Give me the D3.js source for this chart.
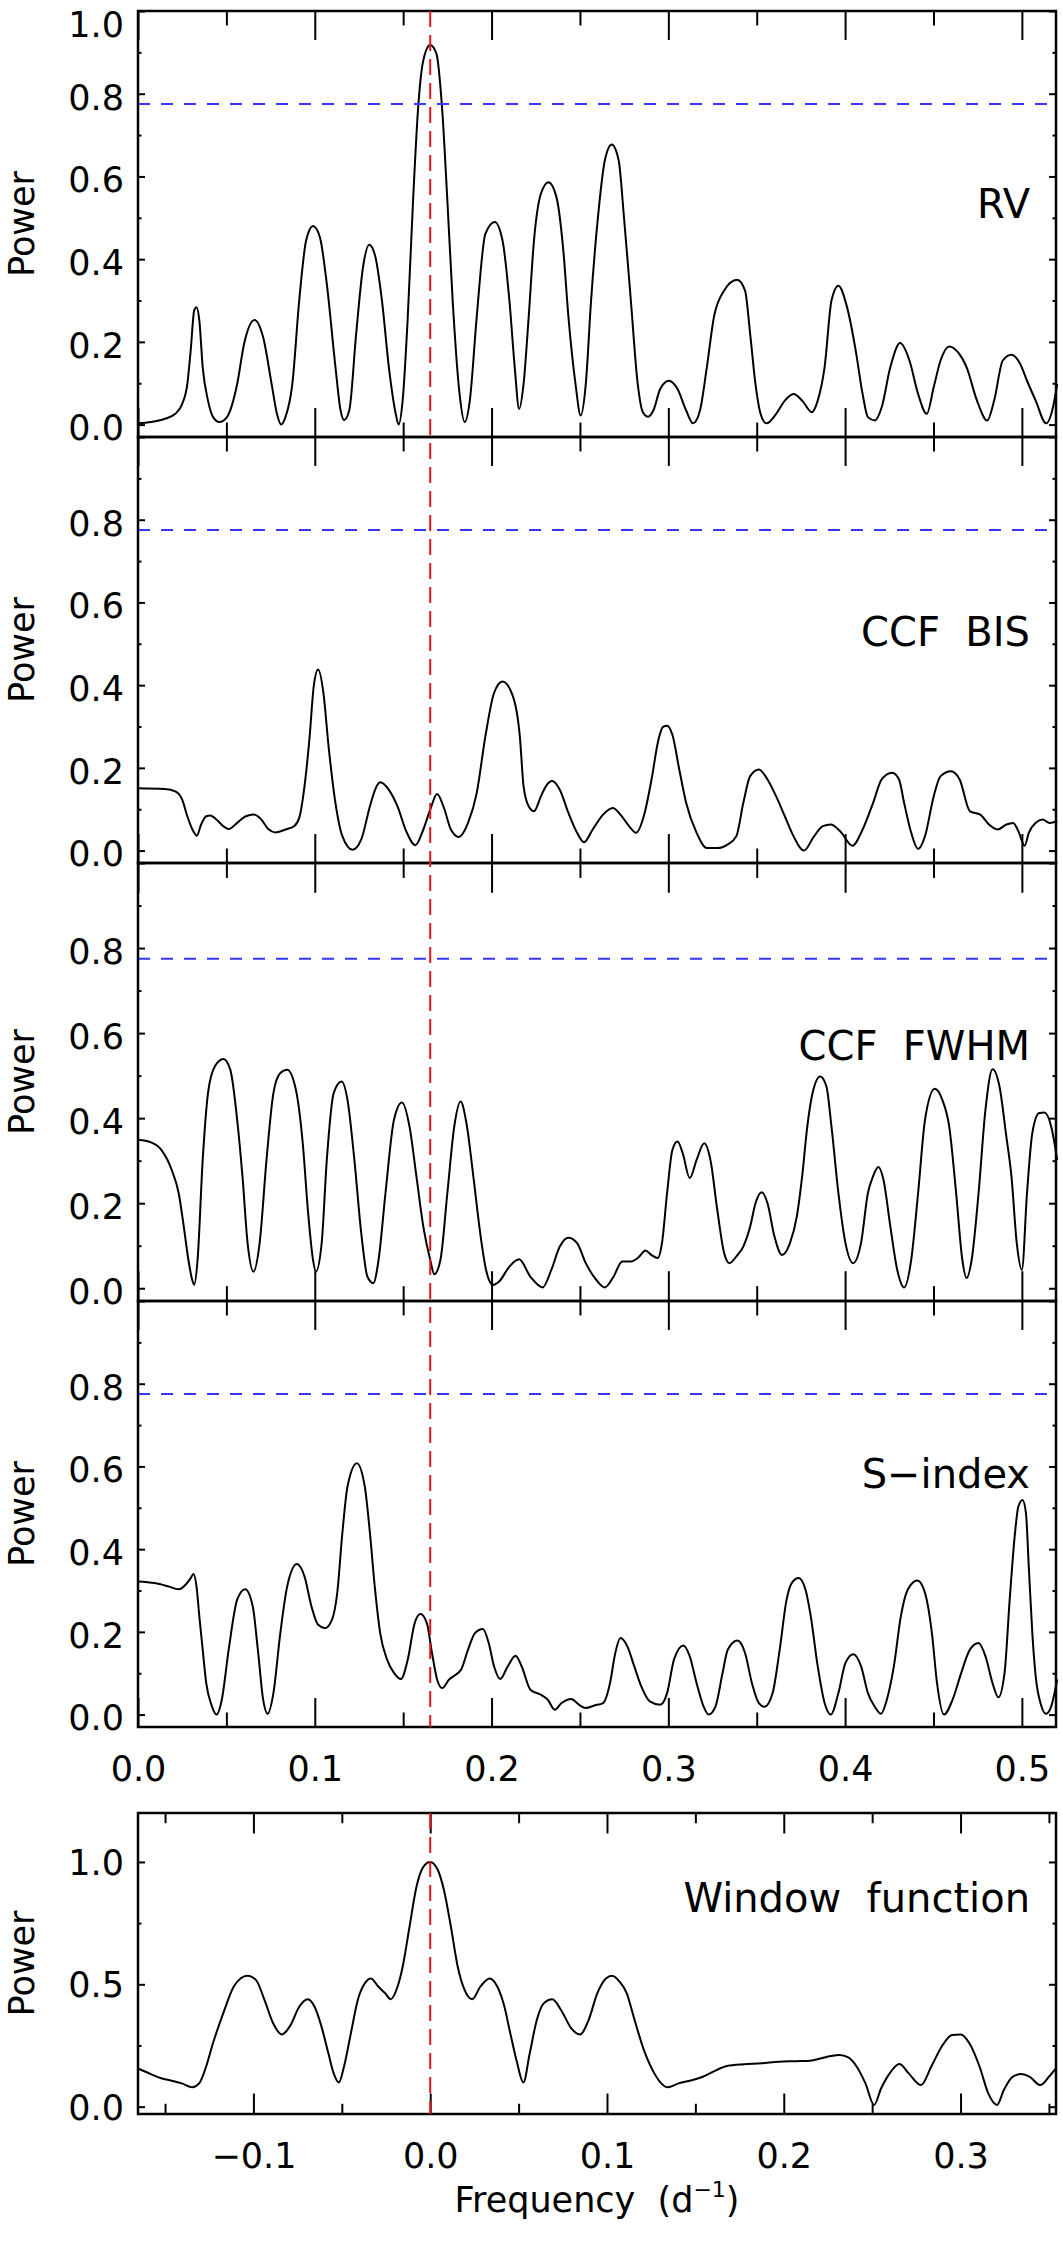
<!DOCTYPE html>
<html>
<head>
<meta charset="utf-8">
<script src="https://cdn.jsdelivr.net/npm/d3@7"></script>
<style>
  body { margin: 0; background: #fff; }
  svg text { font-family: "DejaVu Sans", sans-serif; fill: #000; }
</style>
</head>
<body>
<svg id="chart"></svg>
<script>
// periodogram values (frequency in 1/d, normalised power)
const freqRV = [0.0000,0.0074,0.0152,0.0211,0.0250,0.0279,0.0298,0.0318,0.0331,0.0347,
  0.0366,0.0396,0.0425,0.0460,0.0503,0.0561,0.0600,0.0659,0.0708,0.0756,
  0.0786,0.0809,0.0834,0.0873,0.0912,0.0951,0.0990,0.1029,0.1068,0.1117,
  0.1146,0.1166,0.1195,0.1234,0.1273,0.1308,0.1341,0.1380,0.1419,0.1458,
  0.1474,0.1497,0.1526,0.1556,0.1585,0.1614,0.1653,0.1688,0.1721,0.1750,
  0.1780,0.1819,0.1848,0.1877,0.1916,0.1965,0.2018,0.2062,0.2101,0.2131,
  0.2156,0.2181,0.2210,0.2240,0.2279,0.2322,0.2367,0.2406,0.2435,0.2475,
  0.2504,0.2533,0.2563,0.2602,0.2641,0.2680,0.2719,0.2749,0.2788,0.2827,
  0.2856,0.2886,0.2915,0.2954,0.3003,0.3052,0.3101,0.3140,0.3179,0.3218,
  0.3258,0.3316,0.3389,0.3434,0.3463,0.3493,0.3522,0.3555,0.3610,0.3659,
  0.3708,0.3757,0.3812,0.3845,0.3884,0.3923,0.3962,0.4011,0.4060,0.4099,
  0.4129,0.4168,0.4207,0.4256,0.4311,0.4364,0.4413,0.4462,0.4501,0.4540,
  0.4589,0.4638,0.4687,0.4746,0.4804,0.4843,0.4892,0.4941,0.4990,0.5029,
  0.5078,0.5137,0.5176,0.5200];
const powerRV = [0.003,0.006,0.014,0.026,0.050,0.098,0.179,0.276,0.284,0.252,
  0.139,0.058,0.018,0.006,0.018,0.098,0.195,0.253,0.211,0.098,
  0.026,0.000,0.018,0.098,0.300,0.445,0.480,0.453,0.340,0.139,
  0.034,0.011,0.034,0.219,0.381,0.435,0.409,0.300,0.139,0.026,
  0.000,0.058,0.260,0.542,0.768,0.881,0.918,0.897,0.760,0.542,
  0.300,0.074,0.006,0.058,0.260,0.461,0.490,0.445,0.300,0.139,
  0.038,0.098,0.260,0.445,0.558,0.586,0.550,0.421,0.260,0.098,
  0.022,0.098,0.300,0.502,0.639,0.677,0.639,0.502,0.300,0.098,
  0.030,0.019,0.034,0.086,0.106,0.086,0.034,0.003,0.034,0.139,
  0.260,0.324,0.350,0.324,0.219,0.098,0.026,0.003,0.026,0.058,
  0.074,0.058,0.030,0.058,0.139,0.300,0.336,0.284,0.179,0.074,
  0.018,0.010,0.042,0.139,0.197,0.155,0.074,0.026,0.090,0.155,
  0.189,0.175,0.139,0.058,0.010,0.058,0.155,0.169,0.147,0.106,
  0.058,0.003,0.042,0.098];

const freqBIS = [0.0000,0.0152,0.0211,0.0250,0.0279,0.0308,0.0333,0.0357,0.0386,0.0409,
  0.0444,0.0483,0.0513,0.0561,0.0610,0.0655,0.0698,0.0737,0.0776,0.0834,
  0.0883,0.0912,0.0942,0.0971,0.0994,0.1019,0.1049,0.1078,0.1117,0.1156,
  0.1214,0.1263,0.1312,0.1341,0.1370,0.1419,0.1468,0.1517,0.1569,0.1614,
  0.1653,0.1692,0.1731,0.1770,0.1815,0.1867,0.1916,0.1965,0.2014,0.2062,
  0.2121,0.2160,0.2181,0.2210,0.2240,0.2279,0.2308,0.2343,0.2386,0.2435,
  0.2484,0.2523,0.2572,0.2631,0.2686,0.2729,0.2778,0.2817,0.2866,0.2905,
  0.2944,0.2970,0.2993,0.3023,0.3062,0.3101,0.3160,0.3218,0.3277,0.3336,
  0.3385,0.3424,0.3463,0.3512,0.3561,0.3610,0.3659,0.3708,0.3767,0.3825,
  0.3874,0.3919,0.3972,0.4041,0.4099,0.4158,0.4207,0.4266,0.4305,0.4334,
  0.4374,0.4413,0.4452,0.4501,0.4540,0.4599,0.4648,0.4706,0.4765,0.4814,
  0.4863,0.4912,0.4951,0.4980,0.5016,0.5039,0.5078,0.5117,0.5157,0.5200];
const powerBIS = [0.151,0.149,0.143,0.123,0.083,0.051,0.036,0.063,0.083,0.085,
  0.075,0.059,0.052,0.067,0.083,0.087,0.075,0.052,0.044,0.051,
  0.059,0.079,0.156,0.276,0.397,0.438,0.381,0.252,0.115,0.035,
  0.002,0.027,0.107,0.147,0.165,0.147,0.107,0.047,0.013,0.051,
  0.099,0.137,0.103,0.051,0.033,0.067,0.139,0.276,0.381,0.409,
  0.373,0.276,0.156,0.107,0.095,0.131,0.156,0.168,0.147,0.091,
  0.043,0.020,0.051,0.087,0.103,0.087,0.059,0.043,0.091,0.172,
  0.268,0.299,0.302,0.280,0.196,0.115,0.043,0.006,0.006,0.015,
  0.035,0.115,0.180,0.196,0.172,0.131,0.083,0.035,0.000,0.035,
  0.059,0.063,0.047,0.012,0.051,0.115,0.172,0.188,0.172,0.115,
  0.043,0.004,0.035,0.131,0.180,0.192,0.172,0.095,0.087,0.063,
  0.051,0.063,0.067,0.047,0.012,0.043,0.067,0.075,0.067,0.071];

const freqFWHM = [0.0000,0.0074,0.0133,0.0191,0.0230,0.0259,0.0285,0.0304,0.0318,0.0337,
  0.0366,0.0396,0.0435,0.0483,0.0522,0.0561,0.0591,0.0620,0.0653,0.0688,
  0.0727,0.0766,0.0805,0.0844,0.0893,0.0932,0.0961,0.0990,0.1006,0.1039,
  0.1068,0.1107,0.1152,0.1185,0.1224,0.1263,0.1298,0.1331,0.1361,0.1400,
  0.1448,0.1493,0.1536,0.1575,0.1614,0.1653,0.1676,0.1711,0.1750,0.1789,
  0.1825,0.1858,0.1897,0.1936,0.1969,0.2008,0.2043,0.2101,0.2156,0.2220,
  0.2289,0.2338,0.2386,0.2435,0.2484,0.2533,0.2592,0.2641,0.2690,0.2739,
  0.2788,0.2837,0.2870,0.2905,0.2940,0.2964,0.2993,0.3023,0.3052,0.3081,
  0.3121,0.3160,0.3203,0.3238,0.3277,0.3316,0.3346,0.3385,0.3424,0.3463,
  0.3493,0.3528,0.3561,0.3600,0.3643,0.3688,0.3727,0.3757,0.3786,0.3816,
  0.3859,0.3894,0.3923,0.3962,0.4002,0.4045,0.4090,0.4129,0.4158,0.4188,
  0.4217,0.4256,0.4295,0.4334,0.4374,0.4413,0.4452,0.4507,0.4550,0.4589,
  0.4628,0.4663,0.4687,0.4716,0.4755,0.4794,0.4834,0.4873,0.4912,0.4941,
  0.4971,0.5000,0.5029,0.5059,0.5098,0.5127,0.5166,0.5200];
const powerFWHM = [0.349,0.343,0.325,0.278,0.224,0.145,0.067,0.024,0.008,0.067,
  0.302,0.459,0.522,0.539,0.514,0.396,0.263,0.106,0.039,0.106,
  0.302,0.459,0.506,0.514,0.467,0.341,0.184,0.067,0.039,0.106,
  0.302,0.459,0.486,0.443,0.302,0.129,0.027,0.012,0.067,0.224,
  0.396,0.437,0.380,0.263,0.145,0.067,0.033,0.067,0.224,0.380,
  0.439,0.388,0.263,0.129,0.043,0.008,0.016,0.051,0.068,0.027,
  0.002,0.043,0.098,0.119,0.106,0.059,0.020,0.002,0.027,0.063,
  0.063,0.075,0.089,0.078,0.071,0.106,0.224,0.325,0.345,0.318,
  0.259,0.302,0.341,0.302,0.184,0.082,0.059,0.075,0.098,0.145,
  0.200,0.226,0.200,0.122,0.078,0.106,0.169,0.263,0.380,0.459,
  0.498,0.475,0.380,0.224,0.106,0.059,0.106,0.224,0.263,0.285,
  0.255,0.145,0.043,0.002,0.067,0.224,0.396,0.469,0.443,0.380,
  0.224,0.067,0.024,0.067,0.224,0.420,0.515,0.475,0.357,0.263,
  0.106,0.043,0.224,0.365,0.412,0.413,0.380,0.302];

const freqSindex = [0.0000,0.0094,0.0172,0.0230,0.0269,0.0298,0.0314,0.0331,0.0347,0.0366,
  0.0386,0.0415,0.0444,0.0474,0.0513,0.0561,0.0606,0.0649,0.0678,0.0708,
  0.0733,0.0766,0.0805,0.0844,0.0899,0.0942,0.0981,0.1019,0.1058,0.1097,
  0.1127,0.1156,0.1185,0.1238,0.1283,0.1312,0.1341,0.1370,0.1409,0.1448,
  0.1487,0.1526,0.1565,0.1598,0.1634,0.1663,0.1692,0.1721,0.1760,0.1789,
  0.1828,0.1867,0.1906,0.1951,0.1984,0.2014,0.2049,0.2092,0.2136,0.2170,
  0.2220,0.2279,0.2318,0.2357,0.2396,0.2451,0.2494,0.2533,0.2582,0.2631,
  0.2670,0.2700,0.2729,0.2768,0.2807,0.2847,0.2895,0.2954,0.2993,0.3032,
  0.3085,0.3121,0.3160,0.3199,0.3228,0.3267,0.3307,0.3336,0.3391,0.3434,
  0.3473,0.3512,0.3545,0.3590,0.3630,0.3669,0.3698,0.3737,0.3776,0.3806,
  0.3845,0.3884,0.3919,0.3962,0.4002,0.4047,0.4090,0.4129,0.4168,0.4203,
  0.4236,0.4276,0.4315,0.4354,0.4409,0.4452,0.4491,0.4520,0.4559,0.4608,
  0.4657,0.4706,0.4755,0.4794,0.4834,0.4867,0.4902,0.4931,0.4961,0.4980,
  0.5004,0.5023,0.5039,0.5059,0.5078,0.5108,0.5137,0.5166,0.5200];
const powerSindex = [0.322,0.318,0.310,0.303,0.314,0.330,0.340,0.310,0.237,0.157,
  0.076,0.024,0.000,0.036,0.157,0.278,0.303,0.262,0.157,0.036,
  0.002,0.052,0.197,0.310,0.364,0.334,0.262,0.217,0.209,0.229,
  0.294,0.439,0.551,0.608,0.551,0.439,0.302,0.197,0.133,0.101,
  0.086,0.133,0.221,0.243,0.221,0.149,0.085,0.064,0.085,0.094,
  0.109,0.157,0.197,0.207,0.173,0.117,0.086,0.117,0.142,0.117,
  0.060,0.048,0.036,0.012,0.028,0.038,0.024,0.016,0.022,0.028,
  0.076,0.149,0.185,0.165,0.117,0.068,0.032,0.024,0.052,0.133,
  0.167,0.141,0.076,0.020,0.000,0.020,0.101,0.157,0.179,0.149,
  0.076,0.028,0.019,0.052,0.157,0.278,0.318,0.330,0.302,0.237,
  0.117,0.028,0.000,0.052,0.125,0.146,0.117,0.052,0.019,0.002,
  0.036,0.117,0.237,0.302,0.324,0.294,0.197,0.076,0.000,0.036,
  0.101,0.157,0.173,0.141,0.076,0.042,0.101,0.278,0.439,0.503,
  0.519,0.487,0.358,0.197,0.093,0.024,0.002,0.020,0.085];

const freqWindow = [-0.1653,-0.1580,-0.1522,-0.1463,-0.1405,-0.1346,-0.1307,-0.1268,-0.1229,-0.1171,
  -0.1112,-0.1073,-0.1034,-0.0985,-0.0937,-0.0888,-0.0839,-0.0790,-0.0741,-0.0693,
  -0.0654,-0.0615,-0.0576,-0.0546,-0.0517,-0.0488,-0.0449,-0.0410,-0.0371,-0.0336,
  -0.0293,-0.0254,-0.0224,-0.0185,-0.0156,-0.0117,-0.0078,-0.0039,0.0000,0.0039,
  0.0078,0.0117,0.0156,0.0195,0.0238,0.0283,0.0336,0.0380,0.0420,0.0449,
  0.0488,0.0527,0.0563,0.0603,0.0642,0.0691,0.0740,0.0798,0.0847,0.0896,
  0.0945,0.0994,0.1029,0.1072,0.1112,0.1151,0.1209,0.1268,0.1307,0.1343,
  0.1405,0.1484,0.1542,0.1601,0.1679,0.1777,0.1875,0.1973,0.2071,0.2149,
  0.2208,0.2267,0.2316,0.2365,0.2413,0.2462,0.2511,0.2551,0.2599,0.2654,
  0.2707,0.2776,0.2834,0.2893,0.2952,0.3001,0.3050,0.3108,0.3157,0.3206,
  0.3245,0.3294,0.3343,0.3392,0.3451,0.3500,0.3540];
const powerWindow = [0.156,0.133,0.116,0.106,0.095,0.079,0.095,0.163,0.259,0.381,
  0.490,0.524,0.535,0.517,0.435,0.340,0.295,0.333,0.408,0.439,
  0.408,0.327,0.218,0.136,0.099,0.163,0.299,0.435,0.503,0.524,
  0.490,0.463,0.439,0.490,0.571,0.735,0.898,0.980,1.000,0.973,
  0.884,0.735,0.571,0.476,0.439,0.490,0.524,0.490,0.408,0.313,
  0.190,0.099,0.218,0.354,0.422,0.439,0.395,0.320,0.295,0.354,
  0.463,0.524,0.535,0.510,0.463,0.367,0.231,0.136,0.095,0.079,
  0.095,0.109,0.122,0.143,0.166,0.173,0.177,0.184,0.186,0.188,
  0.197,0.207,0.211,0.201,0.163,0.095,0.007,0.075,0.136,0.174,
  0.136,0.088,0.163,0.245,0.293,0.295,0.259,0.163,0.054,0.007,
  0.068,0.122,0.133,0.122,0.088,0.122,0.156];

const panelLabels = ["RV", "CCF  BIS", "CCF  FWHM", "S\u2212index"];
const windowLabel = "Window  function";

const xMajorTicks = [0.0, 0.1, 0.2, 0.3, 0.4, 0.5];
const xMinorTicks = [0.05, 0.15, 0.25, 0.35, 0.45];
const yMajorTicks = [0.0, 0.2, 0.4, 0.6, 0.8, 1.0];
const yMinorTicks = [0.1, 0.3, 0.5, 0.7, 0.9];
const winXMajorTicks = [-0.1, 0.0, 0.1, 0.2, 0.3];
const winXMinorTicks = [-0.15, -0.05, 0.05, 0.15, 0.25, 0.35];
const winYMajorTicks = [0.0, 0.5, 1.0];
const winYMinorTicks = [0.25, 0.75];

const fapLevel = 0.775;      // blue dashed significance level
const signalFreq = 0.1653;   // red dashed line

document.addEventListener('DOMContentLoaded', function(){
    drawChart();
})

function styleTicks(a){
    a.select(".domain").remove();
    a.attr("font-family", null).attr("font-size", null);
    a.selectAll(".tick line").attr("stroke", "#000").attr("stroke-width", 2);
    return a;
}

// inward ticks along a horizontal edge
function addXTicks(g, x, yPos, side, values, len, fmt){
    const axis = (side === "bottom" ? d3.axisBottom(x) : d3.axisTop(x))
        .tickValues(values)
        .tickSize(-len)
        .tickSizeOuter(0)
        .tickFormat(fmt || (() => ""));
    return g.append("g")
        .attr("transform", `translate(0,${yPos})`)
        .call(axis)
        .call(styleTicks);
}

// inward ticks along a vertical edge
function addYTicks(g, y, xPos, side, values, len, fmt){
    const axis = (side === "left" ? d3.axisLeft(y) : d3.axisRight(y))
        .tickValues(values)
        .tickSize(-len)
        .tickSizeOuter(0)
        .tickPadding(14)
        .tickFormat(fmt || (() => ""));
    return g.append("g")
        .attr("transform", `translate(${xPos},0)`)
        .call(axis)
        .call(styleTicks);
}

function drawPanel(svg, box, x, y, opt){
    const g = svg.append("g");
    const h = box.bottom - box.top;
    const tl = 0.068 * h;
    const fmt = d3.format(".1f");

    // curve
    const line = d3.line()
        .x(d => x(d[0]))
        .y(d => y(d[1]))
        .curve(d3.curveMonotoneX);
    g.append("path")
        .datum(d3.zip(opt.freq, opt.power))
        .attr("fill", "none")
        .attr("stroke", "#000")
        .attr("stroke-width", 2)
        .attr("d", line);

    if (opt.fap) {
        g.append("line")
            .attr("x1", x.range()[0]).attr("x2", x.range()[1])
            .attr("y1", y(opt.fap)).attr("y2", y(opt.fap))
            .attr("stroke", "#3636ff")
            .attr("stroke-width", 2)
            .attr("stroke-dasharray", "12,11");
    }

    // x ticks, top and bottom
    const xb = addXTicks(g, x, box.bottom, "bottom", opt.xMajor, tl, opt.xLabels ? fmt : null);
    addXTicks(g, x, box.bottom, "bottom", opt.xMinor, tl / 2);
    addXTicks(g, x, box.top, "top", opt.xMajor, tl);
    addXTicks(g, x, box.top, "top", opt.xMinor, tl / 2);
    if (opt.xLabels) {
        xb.selectAll("text")
            .attr("y", 54)
            .attr("dy", null)
            .style("font-size", "35px");
    }

    // y ticks, left and right; a label sitting on the top edge is pushed down
    const yl = addYTicks(g, y, x.range()[0], "left", opt.yMajor, 7, fmt);
    addYTicks(g, y, x.range()[0], "left", opt.yMinor, 3.5);
    addYTicks(g, y, x.range()[1], "right", opt.yMajor, 7);
    addYTicks(g, y, x.range()[1], "right", opt.yMinor, 3.5);
    yl.selectAll("text")
        .attr("dy", d => (y(d) - box.top < 12 ? "0.73em" : opt.labelDy))
        .style("font-size", "35px")
        .text(d => opt.yLabels.includes(d) ? fmt(d) : "");

    g.append("text")
        .attr("transform", `translate(34,${(box.top + box.bottom) / 2}) rotate(-90)`)
        .attr("text-anchor", "middle")
        .style("font-size", "35px")
        .text("Power");

    g.append("text")
        .attr("x", 1030)
        .attr("y", box.labelY)
        .attr("text-anchor", "end")
        .style("font-size", "40px")
        .style("white-space", "pre")
        .text(opt.label);

    g.append("rect")
        .attr("x", x.range()[0])
        .attr("y", box.top)
        .attr("width", x.range()[1] - x.range()[0])
        .attr("height", h)
        .attr("fill", "none")
        .attr("stroke", "#000")
        .attr("stroke-width", 2.5);
    return g;
}

function drawChart(){
    const width = 1063, height = 2244;
    const left = 138, right = 1056;

    const svg = d3.select("#chart")
        .attr("width", width)
        .attr("height", height);
    svg.append("rect").attr("width", width).attr("height", height).attr("fill", "#fff");

    const panels = [
        {top: 11, bottom: 437, labelY: 218},
        {top: 437, bottom: 863, labelY: 646},
        {top: 863, bottom: 1301, labelY: 1060},
        {top: 1301, bottom: 1727, labelY: 1488}
    ];
    const winBox = {top: 1813, bottom: 2114, labelY: 1912};

    const x = d3.scaleLinear().domain([0, 0.5193]).range([left, right]);
    const xw = d3.scaleLinear().domain([-0.1653, 0.3540]).range([left, right]);

    const series = [
        [freqRV, powerRV],
        [freqBIS, powerBIS],
        [freqFWHM, powerFWHM],
        [freqSindex, powerSindex]
    ];

    panels.forEach((box, i) => {
        const y = d3.scaleLinear().domain([-0.03, 1.0]).range([box.bottom, box.top]);
        drawPanel(svg, box, x, y, {
            freq: series[i][0],
            power: series[i][1],
            fap: fapLevel,
            label: panelLabels[i],
            xMajor: xMajorTicks,
            xMinor: xMinorTicks,
            xLabels: i === panels.length - 1,
            yMajor: yMajorTicks,
            yMinor: yMinorTicks,
            yLabels: i === 0 ? yMajorTicks : yMajorTicks.slice(0, 5),
            labelDy: "0.44em"
        });
    });

    // red dashed line through the four stacked panels
    svg.append("line")
        .attr("x1", x(signalFreq)).attr("x2", x(signalFreq))
        .attr("y1", panels[0].top).attr("y2", panels[3].bottom)
        .attr("stroke", "#e8141c")
        .attr("stroke-width", 2)
        .attr("stroke-dasharray", "16,8");

    // window function
    const yw = d3.scaleLinear().domain([-0.03, 1.2]).range([winBox.bottom, winBox.top]);
    drawPanel(svg, winBox, xw, yw, {
        freq: freqWindow,
        power: powerWindow,
        fap: null,
        label: windowLabel,
        xMajor: winXMajorTicks,
        xMinor: winXMinorTicks,
        xLabels: true,
        yMajor: winYMajorTicks,
        yMinor: winYMinorTicks,
        yLabels: winYMajorTicks,
        labelDy: "0.36em"
    });

    svg.append("line")
        .attr("x1", xw(0)).attr("x2", xw(0))
        .attr("y1", winBox.top).attr("y2", winBox.bottom)
        .attr("stroke", "#e8141c")
        .attr("stroke-width", 2)
        .attr("stroke-dasharray", "16,8");

    // x axis title with superscript
    const t = svg.append("text")
        .attr("x", (left + right) / 2)
        .attr("y", 2212)
        .attr("text-anchor", "middle")
        .style("font-size", "35px")
        .style("white-space", "pre");
    t.append("tspan").text("Frequency  (d");
    t.append("tspan").attr("dy", -15).style("font-size", "22px").text("\u22121");
    t.append("tspan").attr("dy", 15).text(")");
}
</script>
</body>
</html>
